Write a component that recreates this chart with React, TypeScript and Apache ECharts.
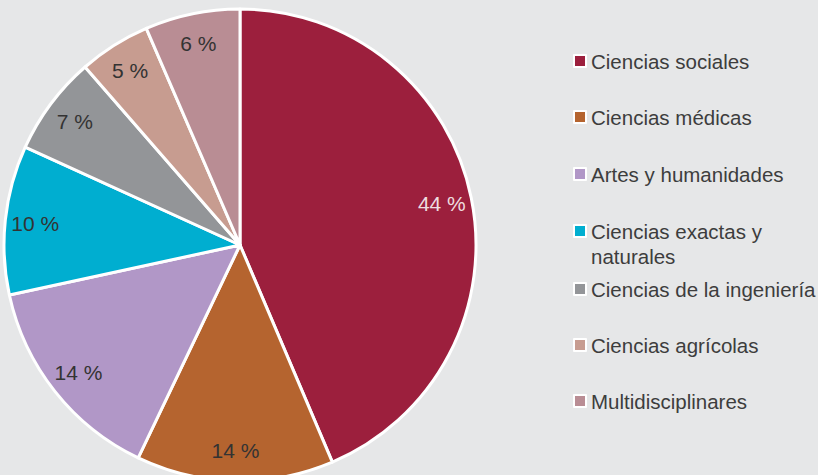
import React, { useEffect, useRef } from "react";
import * as echarts from "echarts";

const categories = [
  "Ciencias sociales",
  "Ciencias médicas",
  "Artes y humanidades",
  "Ciencias exactas y naturales",
  "Ciencias de la ingeniería",
  "Ciencias agrícolas",
  "Multidisciplinares",
];
const shares = [43.6, 13.5, 14.5, 10.2, 6.8, 4.9, 6.5];
// percentages printed on the slices
const printedPercents = [44, 14, 14, 10, 7, 5, 6];
const colors = ["#9C1F3D", "#B5642F", "#B197C7", "#00AED0", "#939598", "#C79C90", "#B98D94"];
const labelColors = ["rgba(255,255,255,0.85)", "#333", "#333", "#333", "#333", "#333", "#333"];
const legendCenters = [61, 117, 174, 231, 289, 345, 401];

const FONT = "'Liberation Sans', Arial, Helvetica, sans-serif";
const LH = 25;

export default function App() {
  const ref = useRef<HTMLDivElement>(null);
  useEffect(() => {
    if (!ref.current) return;
    const chart = echarts.init(ref.current, undefined, { renderer: "svg" });
    const legends = categories.map((name, i) => {
      const twoLine = name === "Ciencias exactas y naturales";
      return {
        orient: "vertical",
        left: 573,
        top: twoLine ? legendCenters[i] - 1.5 * LH : legendCenters[i] - LH / 2,
        padding: 0,
        itemWidth: 12,
        itemHeight: 12,
        itemGap: 0,
        icon: "rect",
        selectedMode: false,
        data: [{ name, itemStyle: { color: colors[i] } }],
        formatter: (n: string) =>
          n === "Ciencias exactas y naturales" ? " \nCiencias exactas y\nnaturales" : n,
        textStyle: {
          fontFamily: FONT,
          fontSize: 20.5,
          color: "#3d3d3d",
          lineHeight: LH,
        },
      };
    });
    chart.setOption({
      animation: false,
      backgroundColor: "#E6E7E8",
      legend: legends,
      series: [
        {
          type: "pie",
          center: [240, 245],
          radius: 236,
          startAngle: 90,
          clockwise: true,
          label: { show: false },
          labelLine: { show: false },
          itemStyle: { borderColor: "#ffffff", borderWidth: 3 },
          emphasis: { disabled: true },
          data: categories.map((name, i) => ({ name, value: shares[i], itemStyle: { color: colors[i] } })),
        },
        {
          type: "pie",
          center: [240, 245],
          radius: [170, 236],
          startAngle: 90,
          clockwise: true,
          silent: true,
          labelLine: { show: false },
          itemStyle: { color: "transparent", borderWidth: 0 },
          emphasis: { disabled: true },
          label: {
            show: true,
            position: "inside",
            fontFamily: FONT,
            fontSize: 21,
            formatter: (p: any) => `${printedPercents[p.dataIndex]} %`,
          },
          data: categories.map((name, i) => ({
            name,
            value: shares[i],
            label: { color: labelColors[i] },
          })),
        },
      ],
    });
    return () => chart.dispose();
  }, []);
  return <div ref={ref} style={{ width: 818, height: 475, position: "absolute", left: 0, top: 0 }} />;
}
